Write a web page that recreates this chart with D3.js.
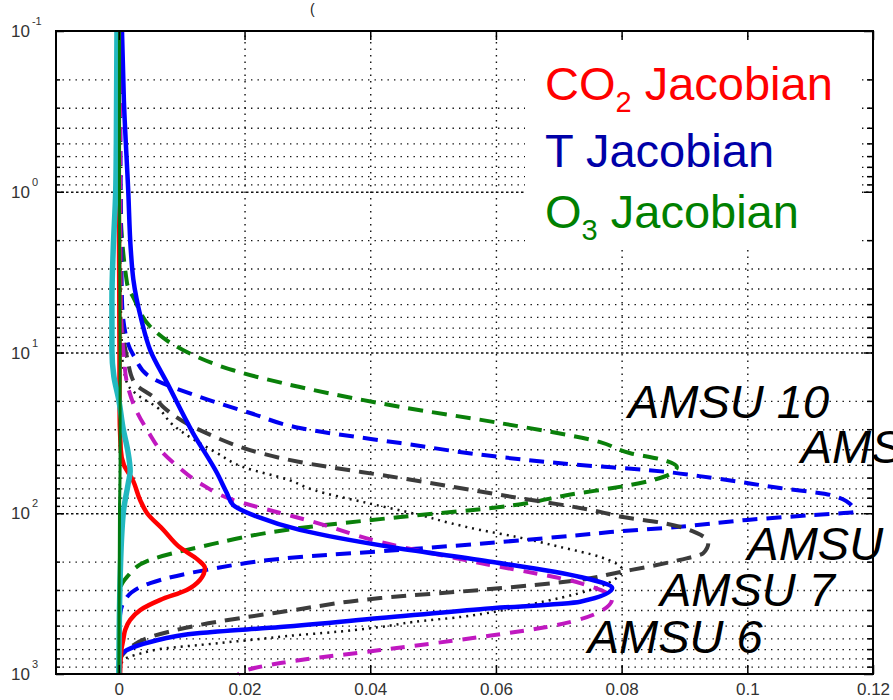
<!DOCTYPE html>
<html>
<head>
<meta charset="utf-8">
<script src="https://cdn.jsdelivr.net/npm/d3@7"></script>
<style>
  body { margin: 0; background: #fff; }
  svg { display: block; }
  text { font-family: "Liberation Sans", Arial, sans-serif; }
</style>
</head>
<body>
<svg id="chart" width="893" height="700"></svg>
<script>
// ---- data: [pressure (hPa), jacobian value] ----
const co2Jacobian = [[0.1,0.0000],[1,0.0000],[10,0.0001],[20,0.0001],[40,0.0003],[50,0.0008],[62,0.0022],[83,0.0034],[100,0.0045],[127,0.0071],[163,0.0097],[195,0.0126],[219,0.0137],[260,0.0129],[300,0.0108],[346,0.0066],[400,0.0034],[461,0.0018],[532,0.0010],[614,0.0007],[710,0.0004],[1000,0.0002]];
const tJacAmsu7 = [[0.1,0.0005],[0.27,0.0008],[1,0.0015],[2.3,0.0019],[3.5,0.0023],[6.3,0.0036],[9.7,0.0050],[15.5,0.0077],[31.7,0.0118],[56,0.0156],[75,0.0172],[89,0.0182],[105,0.0220],[127,0.0288],[164,0.0440],[201,0.0595],[249,0.0734],[292,0.0785],[355,0.0734],[395,0.0575],[449,0.0416],[510,0.0257],[556,0.0129],[632,0.0050],[710,0.0013],[783,0.0002],[879,0.0000],[1000,0.0000]];
const tJacAmsu6 = [[0.1,0.0002],[1,0.0002],[5,0.0003],[10.7,0.0008],[15.5,0.0013],[22.6,0.0027],[31.7,0.0048],[40.4,0.0066],[51.6,0.0095],[65,0.0129],[82.7,0.0182],[99.6,0.0257],[113,0.0309],[151,0.0416],[204,0.0575],[272,0.0734],[340,0.0785],[418,0.0761],[510,0.0681],[589,0.0575],[710,0.0416],[855,0.0257],[944,0.0204],[1000,0.0190]];
const tJacAmsu8 = [[0.1,0.0001],[1,0.0002],[5,0.0003],[10.7,0.0013],[15.5,0.0025],[18.9,0.0055],[22.6,0.0075],[30.4,0.0129],[48,0.0288],[60.4,0.0448],[76.9,0.0607],[98,0.0766],[105.5,0.0802],[115,0.0866],[133,0.0920],[153,0.0938],[177,0.0930],[195,0.0893],[216,0.0840],[232,0.0798],[260,0.0734],[300,0.0575],[337,0.0416],[405,0.0270],[495,0.0129],[589,0.0050],[710,0.0013],[818,0.0002],[1000,0.0000]];
const tJacAmsu9 = [[0.1,0.0002],[1,0.0003],[4.7,0.0005],[8.4,0.0013],[10.7,0.0025],[14.2,0.0050],[18.9,0.0129],[23.8,0.0209],[29.5,0.0288],[36.6,0.0448],[44.7,0.0607],[50.1,0.0734],[53.8,0.0840],[60.4,0.0946],[69.7,0.1052],[76.9,0.1132],[91.4,0.1168],[98,0.1171],[102.5,0.1105],[110,0.1000],[121.8,0.0888],[131,0.0782],[136.5,0.0734],[151,0.0607],[169,0.0448],[187,0.0288],[225,0.0140],[272,0.0050],[332,0.0013],[430,0.0002],[1000,0.0000]];
const tJacAmsu10 = [[0.1,0.0001],[1,0.0002],[3.7,0.0013],[4.7,0.0025],[6.9,0.0050],[9.65,0.0102],[12.9,0.0182],[16.4,0.0288],[21.8,0.0448],[27.5,0.0607],[36.1,0.0766],[42.3,0.0814],[46.6,0.0866],[51.6,0.0888],[59.5,0.0866],[69.7,0.0786],[74.8,0.0734],[91.4,0.0607],[105.5,0.0448],[123.6,0.0288],[162,0.0129],[195,0.0050],[249,0.0013],[300,0.0002],[1000,0.0000]];
const tJacAmsu5 = [[0.1,0.0000],[1,0.0001],[10,0.0005],[15.5,0.0013],[18.9,0.0034],[21.8,0.0060],[28,0.0085],[42.2,0.0156],[51.6,0.0198],[62,0.0270],[71.7,0.0310],[86.3,0.0395],[102.5,0.0479],[115,0.0527],[127,0.0575],[140.6,0.0634],[162,0.0702],[187,0.0766],[225,0.0801],[300,0.0750],[372,0.0650],[442,0.0543],[475,0.0468],[510,0.0416],[556,0.0325],[571,0.0288],[614,0.0209],[660,0.0129],[690,0.0077],[747,0.0034],[818,0.0007],[1000,0.0000]];
const o3JacA = [[0.1,-0.0003],[0.5,-0.0004],[1,-0.0005],[2.3,-0.0009],[4.7,-0.0011],[9.65,-0.0011],[14,-0.0008],[19.8,0.0000],[30,0.0007],[40.4,0.0014],[55,0.0018],[65,0.0015],[100,0.0007],[260,0.0002],[1000,0.0000]];
const o3JacB = [[0.1,0.0001],[1,0.0001],[10,0.0002],[50,0.0002],[100,0.0001],[1000,0.0000]];

// axis ticks
const xTicks = [0, 0.02, 0.04, 0.06, 0.08, 0.1, 0.12];
const xTickLabels = ["0", "0.02", "0.04", "0.06", "0.08", "0.1", "0.12"];
const yDecades = [0.1, 1, 10, 100, 1000];
const yDecadeExp = ["-1", "0", "1", "2", "3"];

// legend and channel labels
const legendItems = [
  { main: "CO", sub: "2", rest: " Jacobian", color: "#ff0000" },
  { main: "T Jacobian", sub: "", rest: "", color: "#0000a8" },
  { main: "O", sub: "3", rest: " Jacobian", color: "#008000" }
];
const channelLabels = [
  { text: "AMSU 10", p: 25.5, v: 0.081 },
  { text: "AMSU 9", p: 48.5, v: 0.1085 },
  { text: "AMSU 8", p: 196, v: 0.1 },
  { text: "AMSU 7", p: 376, v: 0.0861 },
  { text: "AMSU 6", p: 738, v: 0.0746 }
];

const svg = d3.select("#chart");
const L = 56, R = 873, T = 31, B = 674;
const x = d3.scaleLinear().domain([-0.01, 0.12]).range([L, R]);
const y = d3.scaleLog().domain([0.1, 1000]).range([T, B]);

// minor log ticks 2..9 in each decade
const yMinor = [];
for (let d = 0.1; d < 1000; d *= 10) for (let k = 2; k <= 9; k++) yMinor.push(+(d * k).toPrecision(3));

// title fragment above the frame
svg.append("text").attr("x", 310).attr("y", 14).attr("font-size", 14).attr("fill", "#222").text("(");

// grid lines
const gMinor = svg.append("g").attr("transform", `translate(${L},0)`)
  .call(d3.axisLeft(y).tickValues(yMinor).tickSize(-(R - L)).tickFormat(""));
gMinor.select(".domain").remove();
gMinor.selectAll("line").attr("stroke", "#111").attr("stroke-width", 1.4).attr("stroke-dasharray", "1.4,5.1");

const gMajor = svg.append("g").attr("transform", `translate(${L},0)`)
  .call(d3.axisLeft(y).tickValues([1, 10, 100]).tickSize(-(R - L)).tickFormat(""));
gMajor.select(".domain").remove();
gMajor.selectAll("line").attr("stroke", "#111").attr("stroke-width", 1.4).attr("stroke-dasharray", "2.5,2.5");

const gVert = svg.append("g").attr("transform", `translate(0,${B})`)
  .call(d3.axisBottom(x).tickValues([0, 0.02, 0.04, 0.06, 0.08, 0.1]).tickSize(-(B - T)).tickFormat(""));
gVert.select(".domain").remove();
gVert.selectAll("line").attr("stroke", "#111").attr("stroke-width", 1.4).attr("stroke-dasharray", "1.4,5.1");

// legend background
svg.append("rect").attr("x", 525).attr("y", 42).attr("width", 337).attr("height", 208).attr("fill", "#fff");

// curves
const line = d3.line().x(d => x(d[1])).y(d => y(d[0])).curve(d3.curveMonotoneY);
const series = [
  { data: tJacAmsu5, color: "#111111", width: 2.5, dash: "2,5" },
  { data: tJacAmsu10, color: "#0a800a", width: 4, dash: "15,9" },
  { data: tJacAmsu9, color: "#0000f0", width: 4, dash: "15,9" },
  { data: tJacAmsu8, color: "#3c3c3c", width: 4, dash: "15,9" },
  { data: tJacAmsu6, color: "#c018c0", width: 4, dash: "14,10" },
  { data: tJacAmsu7, color: "#0000ff", width: 4.5, dash: null },
  { data: co2Jacobian, color: "#ff0000", width: 4.5, dash: null },
  { data: o3JacA, color: "#22b8c0", width: 5.5, dash: null },
  { data: o3JacB, color: "#007a10", width: 3, dash: null }
];
svg.append("g").attr("fill", "none")
  .selectAll("path").data(series).join("path")
  .attr("d", s => line(s.data))
  .attr("stroke", s => s.color)
  .attr("stroke-width", s => s.width)
  .attr("stroke-dasharray", s => s.dash)
  .attr("stroke-linejoin", "round");

// frame ticks
const tickStyle = g => { g.select(".domain").remove(); g.selectAll("line").attr("stroke", "#000").attr("stroke-width", 1.5); };
svg.append("g").attr("transform", `translate(${L},0)`).call(d3.axisLeft(y).tickValues(yMinor).tickSize(-4).tickFormat("")).call(tickStyle);
svg.append("g").attr("transform", `translate(${L},0)`).call(d3.axisLeft(y).tickValues(yDecades).tickSize(-8).tickFormat("")).call(tickStyle);
svg.append("g").attr("transform", `translate(${R},0)`).call(d3.axisRight(y).tickValues(yMinor).tickSize(-6).tickFormat("")).call(tickStyle);
svg.append("g").attr("transform", `translate(${R},0)`).call(d3.axisRight(y).tickValues(yDecades).tickSize(-9).tickFormat("")).call(tickStyle);
svg.append("g").attr("transform", `translate(0,${T})`).call(d3.axisTop(x).tickValues(xTicks).tickSize(-9).tickFormat("")).call(tickStyle);

const gx = svg.append("g").attr("transform", `translate(0,${B})`)
  .call(d3.axisBottom(x).tickValues(xTicks).tickSize(-9).tickPadding(9).tickFormat((d, i) => xTickLabels[i]));
gx.select(".domain").remove();
gx.selectAll("line").attr("stroke", "#000").attr("stroke-width", 1.5);
gx.selectAll("text").attr("font-size", 17).attr("fill", "#333").attr("font-family", "Liberation Sans, Arial, sans-serif");

// decade labels with superscript exponents
const yl = svg.append("g").attr("fill", "#333");
yDecades.forEach((p, i) => {
  const t = yl.append("text").attr("x", 11).attr("y", y(p) + 6).attr("font-size", 17);
  t.append("tspan").text("10");
  t.append("tspan").attr("dx", 2).attr("dy", -12).attr("font-size", 11).text(yDecadeExp[i]);
});

// frame
svg.append("rect").attr("x", L).attr("y", T).attr("width", R - L).attr("height", B - T)
  .attr("fill", "none").attr("stroke", "#000").attr("stroke-width", 2);

// legend
const legendY = [100, 167, 228];
legendItems.forEach((it, i) => {
  const t = svg.append("text").attr("x", 545).attr("y", legendY[i]).attr("font-size", 47).attr("fill", it.color);
  t.append("tspan").text(it.main);
  if (it.sub) {
    t.append("tspan").attr("dy", 12).attr("font-size", 29).text(it.sub);
    t.append("tspan").attr("dy", -12).text(it.rest);
  }
});

// channel labels
svg.append("g").selectAll("text").data(channelLabels).join("text")
  .attr("x", d => x(d.v)).attr("y", d => y(d.p))
  .attr("font-size", 47).attr("font-style", "italic").attr("fill", "#000")
  .text(d => d.text);
</script>
</body>
</html>
